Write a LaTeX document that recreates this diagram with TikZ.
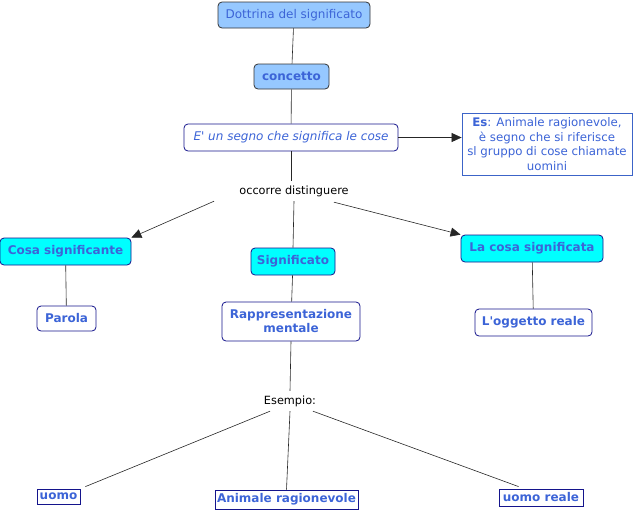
\documentclass[tikz,border=0pt]{standalone}
\usepackage{fontspec}
\setmainfont{DejaVu Sans}[Ligatures=TeXOff]
\usetikzlibrary{arrows.meta,calc}
\definecolor{txtblue}{RGB}{60,100,215}
\definecolor{lightblue}{RGB}{150,200,255}
\definecolor{brightcyan}{RGB}{0,255,255}
\definecolor{navy}{RGB}{20,20,140}
\definecolor{esborder}{RGB}{60,100,200}
\tikzset{
  x=1pt,y=-1pt,
  fs/.style={font=\fontsize{12}{14}\selectfont},
  fsb/.style={font=\fontsize{12}{14}\selectfont\bfseries},
  base/.style={fs, text=txtblue, inner sep=0pt, align=center},
  topbox/.style={base, draw=black!80, fill=lightblue, rounded corners=4pt, line width=0.8pt},
  cyanbox/.style={base, fsb, draw=navy, fill=brightcyan, rounded corners=4pt, line width=0.8pt},
  whitebox/.style={base, draw=navy, fill=white, rounded corners=4pt, line width=0.8pt},
  rectbox/.style={base, fsb, draw=navy, fill=white, line width=0.8pt},
  plain/.style={font=\fontsize{11.3}{13}\selectfont, text=black, inner sep=0pt, minimum height=20pt},
  conn/.style={draw=black!85, line width=0.6pt},
  arr/.style={conn, -{Triangle[length=10pt,width=9pt]}}
}
\begin{document}
\begin{tikzpicture}
\useasboundingbox (0,0) rectangle (634,512);
\node[topbox, minimum width=152pt, minimum height=26pt] (dott) at (294,15) {Dottrina del significato};
\node[topbox, fsb, minimum width=75pt, minimum height=25pt] (conc) at (291.5,76.5) {concetto};
\node[whitebox, minimum width=214pt, minimum height=27pt, font=\fontsize{12}{14}\selectfont\itshape] (segno) at (291,137.5) {E' un segno che significa le cose};
\node[base, draw=esborder, fill=white, line width=0.8pt, minimum width=170pt, minimum height=62pt, font=\fontsize{11.8}{14.5}\selectfont] (es) at (547,144) {\textbf{Es}: Animale ragionevole,\\è segno che si riferisce\\sl gruppo di cose chiamate\\uomini};
\node[plain] (occ) at (294,191) {occorre distinguere};
\node[cyanbox, minimum width=131pt, minimum height=27pt] (cosa) at (65.5,251.5) {Cosa significante};
\node[cyanbox, minimum width=84pt, minimum height=27pt] (sig) at (293,261.5) {Significato};
\node[cyanbox, minimum width=142pt, minimum height=27pt] (lacosa) at (532,248.5) {La cosa significata};
\node[whitebox, fsb, minimum width=59pt, minimum height=25pt] (parola) at (66.5,318.5) {Parola};
\node[whitebox, fsb, minimum width=138pt, minimum height=39pt] (rapp) at (291,321.5) {Rappresentazione\\mentale};
\node[whitebox, fsb, minimum width=117pt, minimum height=27pt] (ogg) at (533.5,322.5) {L'oggetto reale};
\node[plain] (esem) at (290,401) {Esempio:};
\node[rectbox, minimum width=43pt, minimum height=15pt] (uomo) at (58.5,496.5) {uomo};
\node[rectbox, minimum width=143pt, minimum height=19pt] (anim) at (286.5,499.5) {Animale ragionevole};
\node[rectbox, minimum width=84pt, minimum height=17pt] (ureale) at (541,497.5) {uomo reale};
\draw[conn] (dott) -- (conc);
\draw[conn] (conc) -- (segno);
\draw[arr] (segno.east) -- (es.west |- segno.east);
\draw[conn] (segno.south) -- (segno.south |- occ.north);
\coordinate (o1) at ($(occ.south)+(-80,0)$);
\coordinate (o2) at ($(occ.south)+(40,1)$);
\draw[arr] (o1) -- (cosa.north east);
\draw[conn] (occ.south) -- (sig.north);
\draw[arr] (o2) -- (lacosa.north west);
\draw[conn] (cosa) -- (parola);
\draw[conn] (sig) -- (rapp);
\draw[conn] (lacosa) -- (ogg);
\draw[conn] (rapp.south) -- (esem.north);
\coordinate (e1) at ($(esem.south)+(-20,0)$);
\coordinate (e2) at ($(esem.south)+(23,0)$);
\draw[conn] (e1) -- ($(uomo.north east)+(5,-2)$);
\draw[conn] (esem.south) -- (anim.north);
\draw[conn] (e2) -- ($(ureale.north west)+(20,-2)$);
\end{tikzpicture}
\end{document}
